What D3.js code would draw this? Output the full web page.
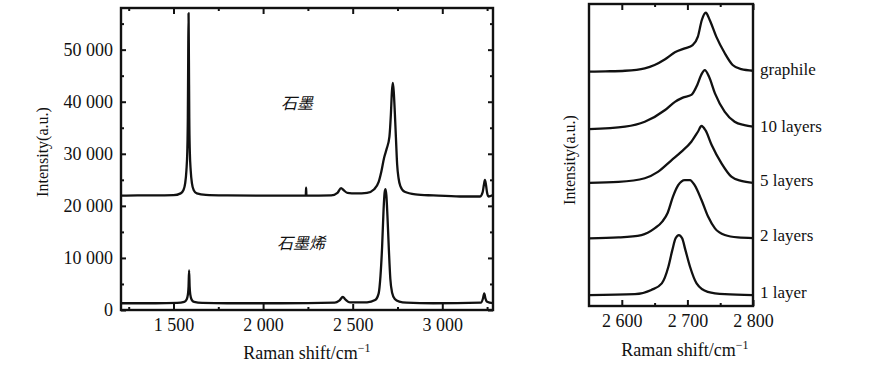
<!DOCTYPE html>
<html>
<head>
<meta charset="utf-8">
<script src="https://cdn.jsdelivr.net/npm/d3@7"></script>
<style>
body { margin: 0; background: #fff; }
text { font-family: "Liberation Serif", "DejaVu Serif", serif; fill: #111; }
</style>
</head>
<body>
<svg width="878" height="380"></svg>
<script>
// left panel: full spectra, [Raman shift, intensity]
var graphite = [
  [1207, 21950], [1300, 22000], [1400, 22000], [1500, 22050], [1540, 22400], [1555, 23000],
  [1565, 24300], [1572, 26800], [1577, 30500], [1580, 37000], [1582, 48000], [1584, 57000],
  [1586, 48000], [1588, 37000], [1591, 30500], [1596, 26800], [1603, 24300], [1613, 23000],
  [1630, 22400], [1680, 22100], [1800, 22000], [2000, 21950], [2200, 21950], [2238, 21950],
  [2240, 23500], [2242, 21950], [2380, 22000], [2415, 22500], [2435, 23400], [2450, 23000],
  [2470, 22500], [2520, 22400], [2580, 22500], [2620, 23200], [2645, 24600], [2660, 26600],
  [2675, 29200], [2690, 31000], [2705, 33300], [2713, 37500], [2719, 42000], [2724, 43600],
  [2729, 42000], [2735, 38000], [2741, 33300], [2748, 28000], [2756, 25300], [2766, 23800],
  [2790, 22700], [2850, 22200], [2950, 22000], [3100, 21800], [3210, 21800], [3225, 22600],
  [3232, 24000], [3238, 25000], [3244, 24000], [3250, 22500], [3258, 21800], [3283, 22100]
];
var graphene = [
  [1207, 1300], [1400, 1300], [1520, 1350], [1560, 1550], [1573, 2000], [1580, 2900],
  [1584, 4500], [1587, 7600], [1590, 4500], [1594, 2900], [1601, 2000], [1615, 1550],
  [1660, 1350], [1800, 1300], [2100, 1300], [2400, 1400], [2425, 1800], [2445, 2500],
  [2460, 2000], [2485, 1450], [2580, 1480], [2625, 1900], [2645, 3200], [2655, 6500],
  [2664, 12000], [2672, 19000], [2678, 22500], [2683, 23200], [2688, 22000], [2694, 18000],
  [2702, 11500], [2710, 6000], [2720, 3300], [2735, 2100], [2760, 1600], [2800, 1400],
  [2950, 1300], [3215, 1400], [3227, 2200], [3234, 3200], [3241, 2200], [3250, 1600], [3283, 1300]
];
var leftLabels = ["石墨", "石墨烯"];
var leftMajorX = [1500, 2000, 2500, 3000];
var leftMinorX = [1250, 1750, 2250, 2750, 3250];
var leftMajorY = [0, 10000, 20000, 30000, 40000, 50000];
var leftMinorY = [5000, 15000, 25000, 35000, 45000, 55000];

// right panel: 2D band per sample, intensity above its own baseline
var graphile = [
  [2550, 0], [2575, 0.1], [2605, 0.3], [2635, 1.1], [2650, 2.2], [2666, 4.1], [2681, 6.4],
  [2696, 7.7], [2708, 8.8], [2716, 11.6], [2722, 17.1], [2728, 19.5], [2734, 17.1],
  [2744, 11.6], [2757, 6.1], [2769, 2.2], [2782, 0.8], [2800, 0.3]
];
var tenLayers = [
  [2550, 0], [2605, 0.8], [2635, 2.4], [2666, 6.3], [2681, 9.0], [2693, 10.4], [2706, 11.3],
  [2715, 14.6], [2721, 17.9], [2726.5, 19.5], [2733, 17.3], [2742, 11.8], [2757, 5.7],
  [2772, 2.4], [2787, 1.3], [2800, 0.8]
];
var fiveLayers = [
  [2550, 0], [2595, 0.3], [2635, 1.5], [2655, 3.6], [2676, 7.5], [2691, 10.3], [2706, 13.6],
  [2716, 16.9], [2721.5, 18.8], [2727.5, 17.4], [2737, 12.5], [2752, 6.4], [2767, 2.0],
  [2782, 0.6], [2800, 0]
];
var twoLayers = [
  [2550, 0], [2595, 0.3], [2630, 1.1], [2650, 3.3], [2662, 5.6], [2670, 8.5], [2678, 13.8],
  [2686, 17.6], [2696, 19.3], [2704, 19.3], [2711, 17.6], [2721.5, 12.7], [2731.5, 7.2],
  [2742, 3.3], [2757, 1.1], [2777, 0.3], [2800, 0.1]
];
var oneLayer = [
  [2550, 0], [2620, 0.3], [2645, 1.7], [2661, 3.9], [2671, 9.4], [2677, 14.9], [2682, 18.8],
  [2687, 19.9], [2692, 18.8], [2697, 14.9], [2704, 9.4], [2714, 3.9], [2731, 1.1],
  [2757, 0.3], [2800, 0]
];
var layerSpectra = [graphile, tenLayers, fiveLayers, twoLayers, oneLayer];
var layerLabels = ["graphile", "10 layers", "5 layers", "2 layers", "1 layer"];
var layerOffsets = [77.6, 58.6, 40.8, 22.4, 3.6];
var rightMajorX = [2600, 2700, 2800];
var rightMinorX = [2650, 2750];

var svg = d3.select("svg");
var fmt = function (d) { return d3.format(",")(d).replace(/,/g, " "); };

function panel(box, id) {
  var g = svg.append("g");
  svg.append("clipPath").attr("id", id)
    .append("rect")
    .attr("x", box.left).attr("y", box.top)
    .attr("width", box.right - box.left).attr("height", box.bottom - box.top);
  return g;
}

function tickAxis(g, axis, transform, labels) {
  var a = g.append("g").attr("transform", transform).call(axis);
  a.select(".domain").remove();
  a.selectAll("line").attr("stroke", "#111").attr("stroke-width", 2);
  a.selectAll("text").style("font-size", "18px").attr("fill", "#111");
  if (!labels) a.selectAll("text").remove();
  return a;
}

function xTitle(g, x, y) {
  var t = g.append("text").attr("x", x).attr("y", y).attr("text-anchor", "middle")
    .style("font-size", "18px").text("Raman shift/cm");
  t.append("tspan").attr("dy", -7).style("font-size", "12px").text("−1");
}

// ---------- left panel ----------
var L = { left: 121, right: 493, top: 8, bottom: 310 };
var lx = d3.scaleLinear().domain([1207, 3283]).range([L.left, L.right]);
var ly = d3.scaleLinear().domain([0, 58000]).range([L.bottom, L.top]);
var gl = panel(L, "clipL");

tickAxis(gl, d3.axisBottom(lx).tickValues(leftMajorX).tickSize(-6).tickSizeOuter(0).tickPadding(8).tickFormat(fmt),
  "translate(0," + L.bottom + ")", true);
tickAxis(gl, d3.axisBottom(lx).tickValues(leftMinorX).tickSize(-3).tickSizeOuter(0),
  "translate(0," + L.bottom + ")", false);
tickAxis(gl, d3.axisTop(lx).tickValues(leftMajorX).tickSize(-6).tickSizeOuter(0),
  "translate(0," + L.top + ")", false);
tickAxis(gl, d3.axisTop(lx).tickValues(leftMinorX).tickSize(-3).tickSizeOuter(0),
  "translate(0," + L.top + ")", false);
tickAxis(gl, d3.axisLeft(ly).tickValues(leftMajorY).tickSize(-5).tickSizeOuter(0).tickPadding(8).tickFormat(fmt),
  "translate(" + L.left + ",0)", true);
tickAxis(gl, d3.axisLeft(ly).tickValues(leftMinorY).tickSize(-3).tickSizeOuter(0),
  "translate(" + L.left + ",0)", false);
tickAxis(gl, d3.axisRight(ly).tickValues(leftMajorY).tickSize(-5).tickSizeOuter(0),
  "translate(" + L.right + ",0)", false);
tickAxis(gl, d3.axisRight(ly).tickValues(leftMinorY).tickSize(-3).tickSizeOuter(0),
  "translate(" + L.right + ",0)", false);

var lline = d3.line().x(function (d) { return lx(d[0]); }).y(function (d) { return ly(d[1]); })
  .curve(d3.curveMonotoneX);
gl.selectAll(".spec").data([graphite, graphene]).enter().append("path")
  .attr("clip-path", "url(#clipL)")
  .attr("d", lline).attr("fill", "none").attr("stroke", "#111")
  .attr("stroke-width", 2.3).attr("stroke-linejoin", "round");

gl.append("rect").attr("x", L.left).attr("y", L.top)
  .attr("width", L.right - L.left).attr("height", L.bottom - L.top)
  .attr("fill", "none").attr("stroke", "#111").attr("stroke-width", 2.4);

gl.append("text").attr("x", 297).attr("y", 109).attr("text-anchor", "middle")
  .style("font-family", "'Noto Sans CJK SC'").style("font-size", "16px").style("font-style", "italic")
  .text(leftLabels[0]);
gl.append("text").attr("x", 301).attr("y", 249).attr("text-anchor", "middle")
  .style("font-family", "'Noto Sans CJK SC'").style("font-size", "16px").style("font-style", "italic")
  .text(leftLabels[1]);

gl.append("text").attr("transform", "translate(48,152) rotate(-90)").attr("text-anchor", "middle")
  .style("font-size", "16px").text("Intensity(a.u.)");
xTitle(gl, 307, 359);

// ---------- right panel ----------
var R = { left: 589, right: 753, top: 4, bottom: 306 };
var rx = d3.scaleLinear().domain([2550, 2800]).range([R.left, R.right]);
var ry = d3.scaleLinear().domain([0, 100]).range([R.bottom, R.top]);
var gr = panel(R, "clipR");

tickAxis(gr, d3.axisBottom(rx).tickValues(rightMajorX).tickSize(-6).tickSizeOuter(0).tickPadding(8).tickFormat(fmt),
  "translate(0," + R.bottom + ")", true);
tickAxis(gr, d3.axisBottom(rx).tickValues(rightMinorX).tickSize(-3).tickSizeOuter(0),
  "translate(0," + R.bottom + ")", false);
tickAxis(gr, d3.axisTop(rx).tickValues(rightMajorX).tickSize(-6).tickSizeOuter(0),
  "translate(0," + R.top + ")", false);
tickAxis(gr, d3.axisTop(rx).tickValues(rightMinorX).tickSize(-3).tickSizeOuter(0),
  "translate(0," + R.top + ")", false);

layerSpectra.forEach(function (s, i) {
  var off = layerOffsets[i];
  var line = d3.line().x(function (d) { return rx(d[0]); }).y(function (d) { return ry(d[1] + off); })
    .curve(d3.curveMonotoneX);
  gr.append("path").datum(s).attr("clip-path", "url(#clipR)")
    .attr("d", line).attr("fill", "none").attr("stroke", "#111")
    .attr("stroke-width", 2.3).attr("stroke-linejoin", "round");
  gr.append("text").attr("x", R.right + 7).attr("y", ry(off) + 3)
    .style("font-size", "17px").text(layerLabels[i]);
});

gr.append("rect").attr("x", R.left).attr("y", R.top)
  .attr("width", R.right - R.left).attr("height", R.bottom - R.top)
  .attr("fill", "none").attr("stroke", "#111").attr("stroke-width", 2.4);

gr.append("text").attr("transform", "translate(575,160) rotate(-90)").attr("text-anchor", "middle")
  .style("font-size", "16px").text("Intensity(a.u.)");
xTitle(gr, 685, 356);
</script>
</body>
</html>
